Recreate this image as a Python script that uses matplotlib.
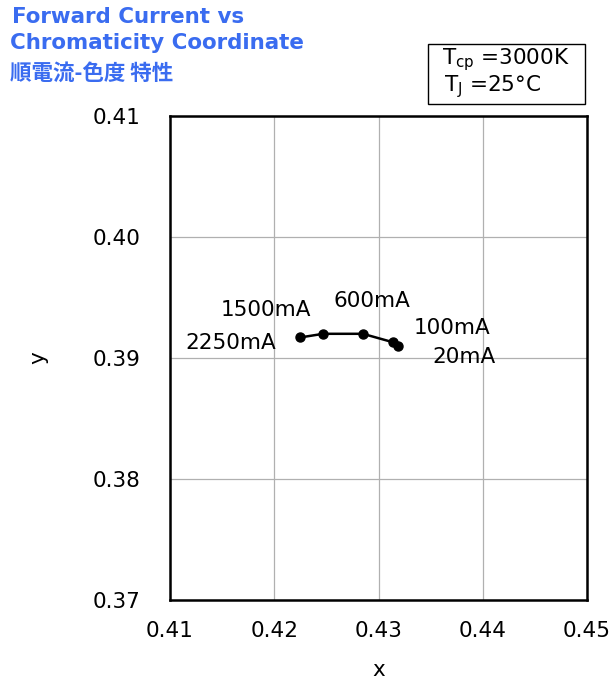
import matplotlib
matplotlib.use("Agg")
import matplotlib.pyplot as plt
from matplotlib.patches import Rectangle

# chromaticity points
currents = ["2250mA", "1500mA", "600mA", "100mA", "20mA"]
cx = [0.4225, 0.4247, 0.4285, 0.4314, 0.4319]
cy = [0.3917, 0.3920, 0.3920, 0.3913, 0.3910]

# label anchor positions (data coords)
label_x = [0.4158, 0.4192, 0.4294, 0.4371, 0.4382]
label_y = [0.3912, 0.3940, 0.3947, 0.3925, 0.3901]

xticks = [0.41, 0.42, 0.43, 0.44, 0.45]
yticks = [0.37, 0.38, 0.39, 0.40, 0.41]

blue = "#3a6cf0"
fs = 15.5
fig = plt.figure(figsize=(6.1, 6.79), dpi=100)
ax = fig.add_axes([170 / 610, 1 - 600 / 679, 417 / 610, 484 / 679])

ax.plot(cx, cy, color="black", lw=1.8, marker="o", ms=6.5, zorder=3)
for name, lx, ly in zip(currents, label_x, label_y):
    ax.text(lx, ly, name, fontsize=fs, ha="center", va="center")

ax.set_xlim(0.41, 0.45)
ax.set_ylim(0.37, 0.41)
ax.set_xticks(xticks)
ax.set_yticks(yticks)
ax.set_xticklabels([f"{v:.2f}" for v in xticks])
ax.set_yticklabels([f"{v:.2f}" for v in yticks])
ax.tick_params(axis="x", labelsize=fs, length=0, pad=15)
ax.tick_params(axis="y", labelsize=fs, length=0, pad=21)
ax.grid(True, color="#b0b0b0", lw=0.9)
for s in ax.spines.values():
    s.set_linewidth(1.8)
ax.set_xlabel("x", fontsize=fs, labelpad=14)
ax.set_ylabel("y", fontsize=fs, labelpad=32, rotation=90)

fig.text(12 / 610, 1 - 17 / 679, "Forward Current vs", fontsize=15.4,
         fontweight="bold", color=blue, va="center")
fig.text(10 / 610, 1 - 43 / 679, "Chromaticity Coordinate", fontsize=15.4,
         fontweight="bold", color=blue, va="center")
fig.text(10 / 610, 1 - 73 / 679, "順電流-色度 特性", fontsize=15.5,
         fontweight="bold", color=blue, va="center",
         family=["Noto Sans CJK JP", "DejaVu Sans"])

fig.patches.append(Rectangle((428 / 610, 1 - 104 / 679), 157 / 610, 60 / 679,
                             transform=fig.transFigure, fill=False,
                             edgecolor="black", lw=1.0))
fig.text(442 / 610, 1 - 60 / 679, r"T$_{\rm cp}$ =3000K", fontsize=fs, va="center")
fig.text(444 / 610, 1 - 87 / 679, r"T$_{\rm J}$ =25°C", fontsize=fs, va="center")

fig.savefig("out.png", dpi=100)
